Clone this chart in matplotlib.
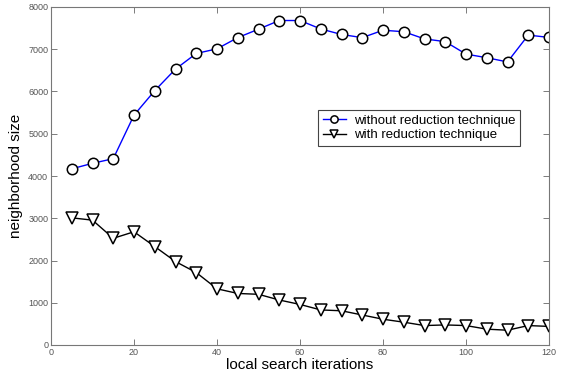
import matplotlib

matplotlib.use("Agg")
import matplotlib.pyplot as plt

iterations = list(range(5, 121, 5))
without_reduction = [4170, 4300, 4410, 5440, 6020, 6530, 6900, 7010, 7275, 7475, 7680, 7680,
                     7480, 7350, 7275, 7450, 7415, 7245, 7180, 6885, 6800, 6700, 7335, 7280]
with_reduction = [3010, 2955, 2525, 2680, 2330, 1975, 1715, 1330, 1220, 1200, 1065, 960,
                  830, 810, 710, 610, 540, 460, 475, 460, 375, 350, 460, 440]
x_ticks = [0, 20, 40, 60, 80, 100, 120]
y_ticks = [0, 1000, 2000, 3000, 4000, 5000, 6000, 7000, 8000]

plt.rcParams["font.family"] = ["Liberation Sans", "DejaVu Sans"]

fig = plt.figure(figsize=(5.68, 3.78), dpi=100)
ax = fig.add_axes([51 / 568, 33 / 378, 498 / 568, 338 / 378])

ax.plot(iterations, without_reduction, color="#0000ff", linewidth=1, marker="o",
        markersize=7.5, markerfacecolor="white", markeredgecolor="black",
        markeredgewidth=1.1, label="without reduction technique")
ax.plot(iterations, with_reduction, color="black", linewidth=1, marker="v",
        markersize=8, markerfacecolor="white", markeredgecolor="black",
        markeredgewidth=1.1, label="with reduction technique")

ax.set_xlim(0, 120)
ax.set_ylim(0, 8000)
ax.set_xticks(x_ticks)
ax.set_yticks(y_ticks)
ax.tick_params(direction="in", top=True, right=True, length=4, width=0.6,
               color="#666666", labelsize=6.5, labelcolor="#555555", pad=2)
for spine in ax.spines.values():
    spine.set_color("#777777")
    spine.set_linewidth(0.8)

ax.set_xlabel("local search iterations", fontsize=11, labelpad=1)
ax.set_ylabel("neighborhood size", fontsize=11, labelpad=4)

leg = ax.legend(loc="upper left", bbox_to_anchor=(0.536, 0.695), fontsize=9.5,
                fancybox=False, framealpha=1, edgecolor="#444444", markerscale=0.7,
                handlelength=1.8, handletextpad=0.6, borderpad=0.35,
                labelspacing=0.15, borderaxespad=0)
leg.get_frame().set_linewidth(0.8)

fig.savefig("out.png", dpi=100)
